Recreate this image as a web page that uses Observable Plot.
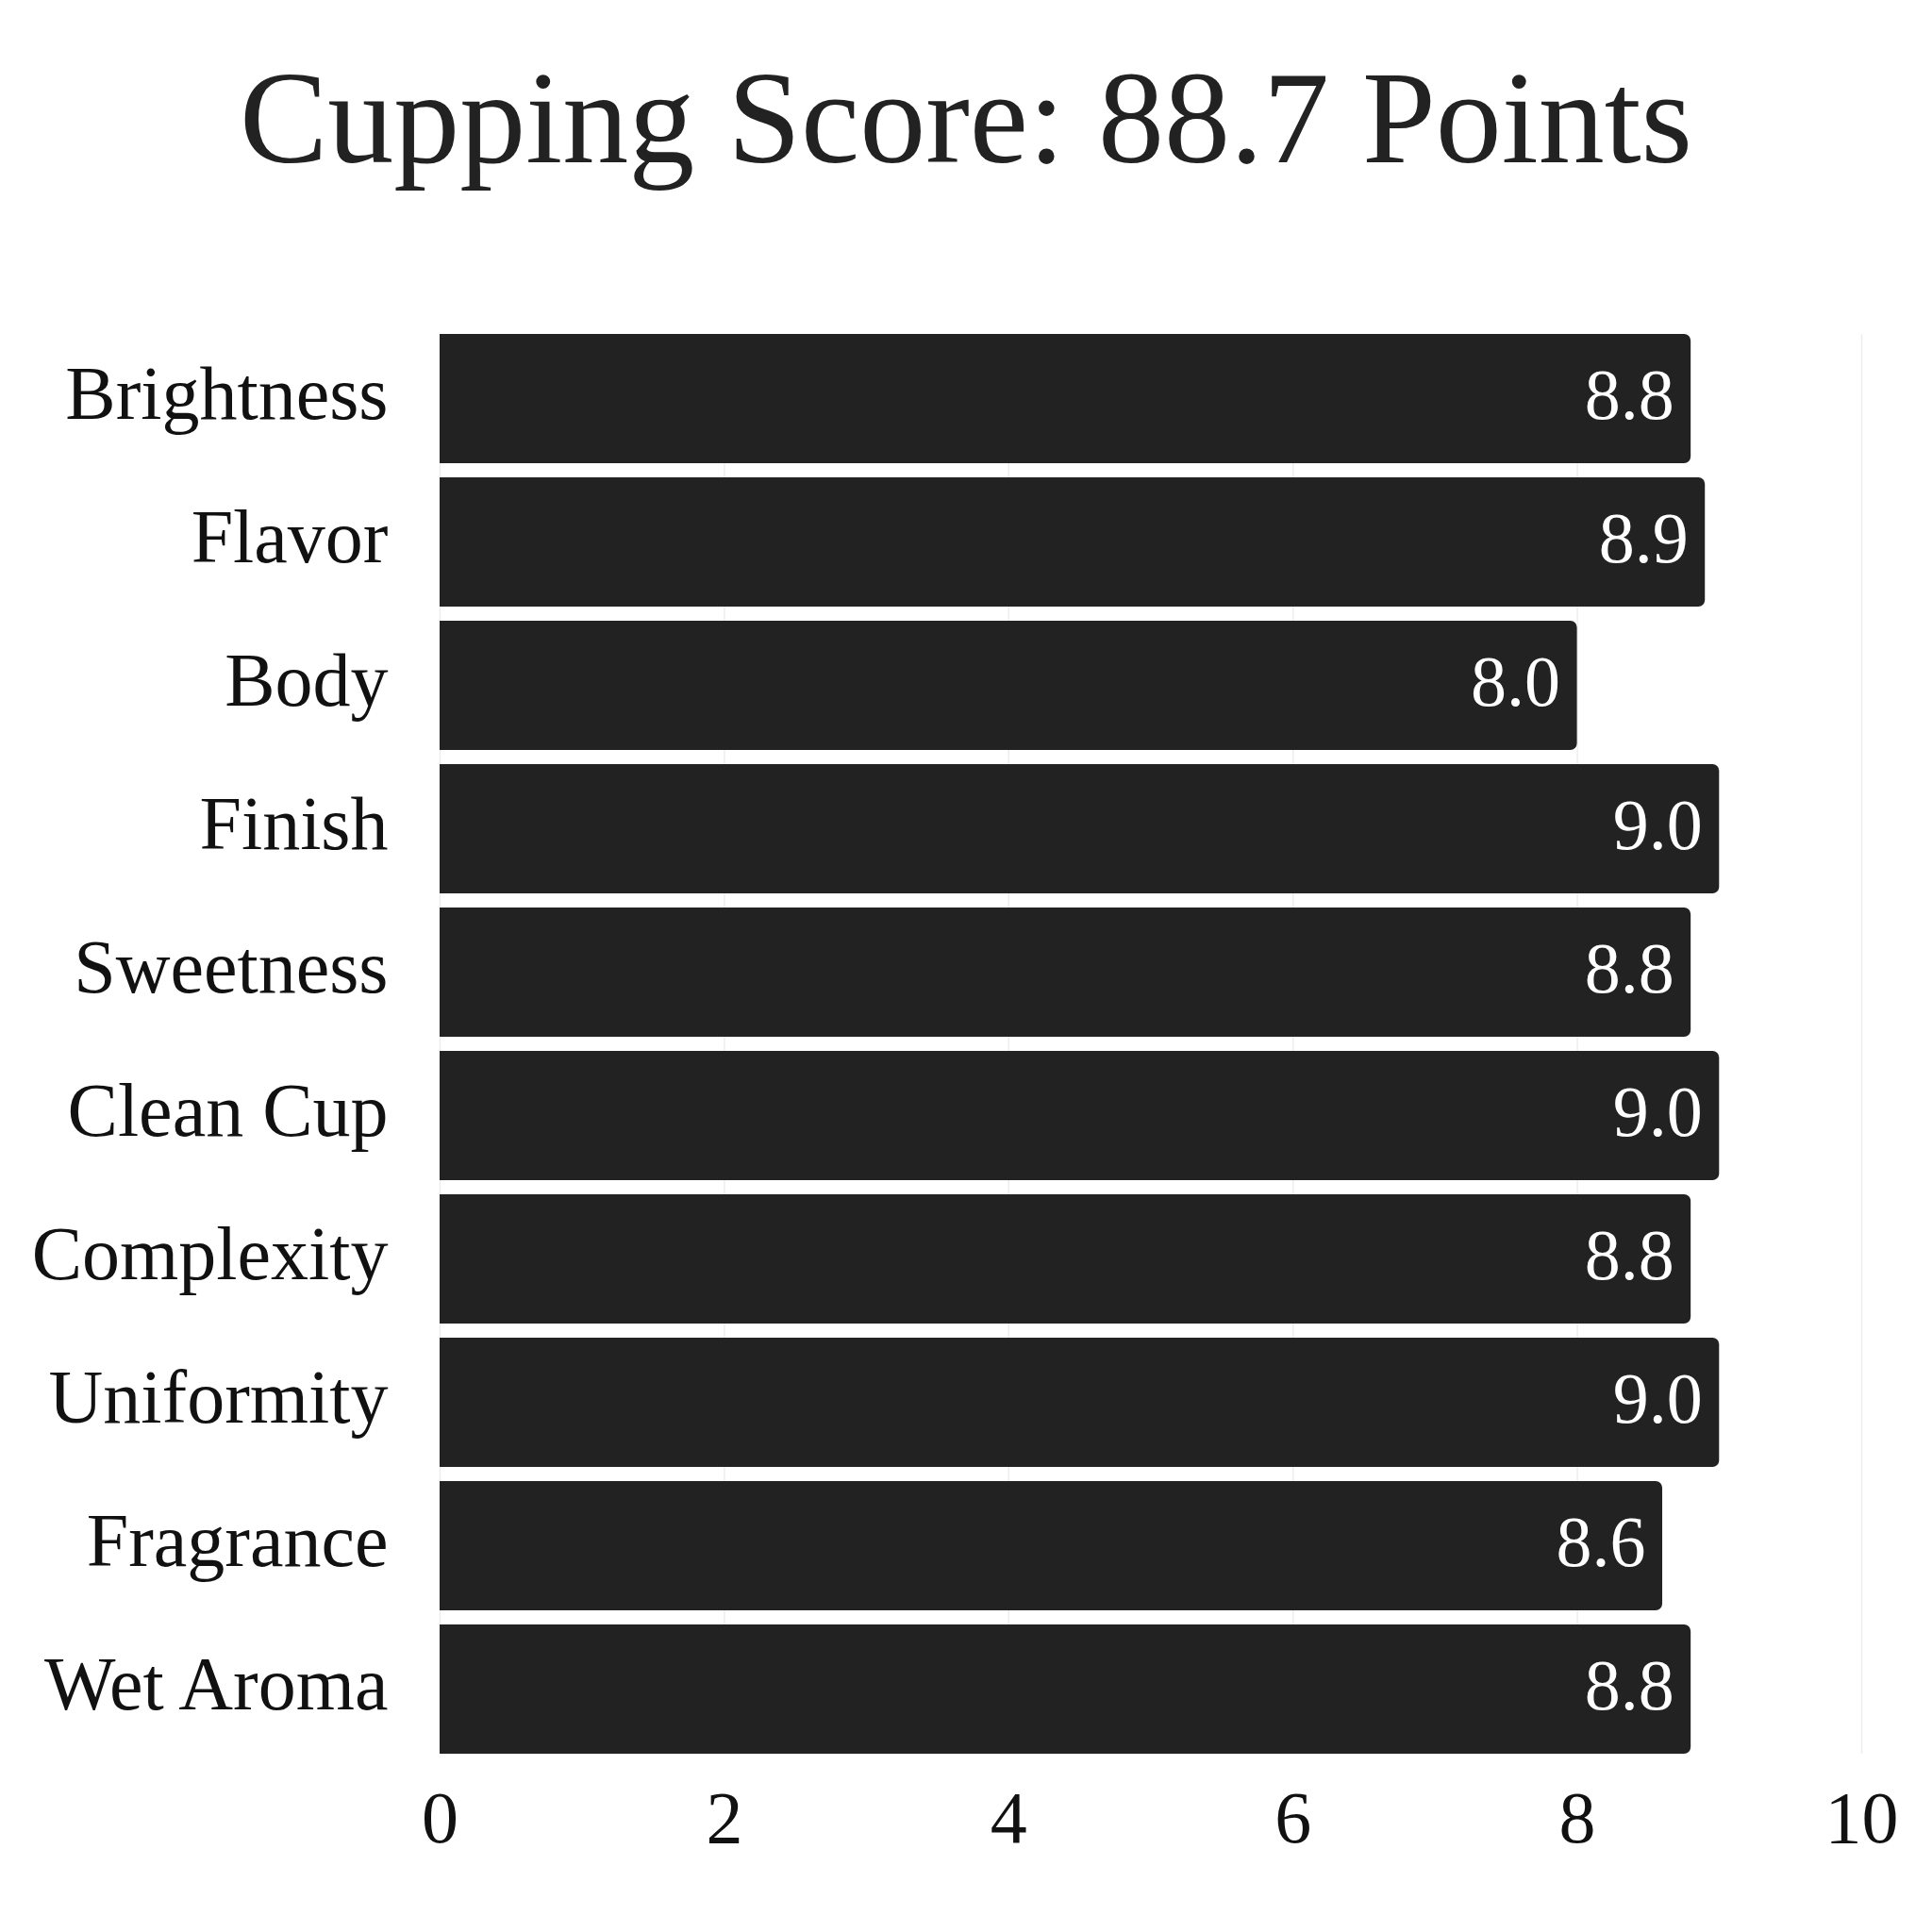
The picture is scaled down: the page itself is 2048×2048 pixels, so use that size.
<!DOCTYPE html>
<html>
<head>
<meta charset="utf-8">
<script src="https://cdn.jsdelivr.net/npm/d3@7"></script>
<script src="https://cdn.jsdelivr.net/npm/@observablehq/plot@0.6"></script>
<style>
  html, body { margin: 0; padding: 0; background: #ffffff; }
  #wrap { width: 2048px; height: 2048px; background: #ffffff; }
  #title {
    width: 2048px; height: 250px; line-height: 250px;
    text-align: center; font-family: "Liberation Serif", serif;
    font-size: 140px; color: #222222; white-space: nowrap;
  }
</style>
</head>
<body>
<div id="wrap">
  <div id="title">Cupping Score: 88.7 Points</div>
  <div id="chart"></div>
</div>
<script>
const categories = ["Brightness", "Flavor", "Body", "Finish", "Sweetness", "Clean Cup", "Complexity", "Uniformity", "Fragrance", "Wet Aroma"];
const scores = [8.8, 8.9, 8.0, 9.0, 8.8, 9.0, 8.8, 9.0, 8.6, 8.8];
const xTicks = [0, 2, 4, 6, 8, 10];

const data = categories.map((c, i) => ({category: c, score: scores[i]}));
const fmt = d3.format(".1f");

const chart = Plot.plot({
  width: 2048,
  height: 1798,
  marginLeft: 466,
  marginRight: 75,
  marginTop: 104,
  marginBottom: 189,
  style: {fontFamily: "Liberation Serif, serif", fontSize: "78px", color: "#111111", background: "#ffffff"},
  x: {domain: [0, 10]},
  y: {domain: categories, paddingInner: 0.1, paddingOuter: 0},
  marks: [
    Plot.gridX(xTicks, {stroke: "#000000", strokeOpacity: 0.07, strokeWidth: 1.5}),
    Plot.barX(data, {x: "score", y: "category", fill: "#222222", rx: 7}),
    Plot.barX(data, {x1: 0, x2: d => d.score / 2, y: "category", fill: "#222222"}),
    Plot.text(data, {x: "score", y: "category", text: d => fmt(d.score), textAnchor: "end", dx: -18, dy: -3, fill: "#ffffff", fontSize: 76}),
    Plot.axisX(xTicks, {tickSize: 0, tickPadding: 38, label: null, fontSize: 78, tickFormat: d3.format("d")}),
    Plot.axisY({tickSize: 0, tickPadding: 55, label: null, fontSize: 80, dy: -5})
  ]
});
document.getElementById("chart").appendChild(chart);
</script>
</body>
</html>
